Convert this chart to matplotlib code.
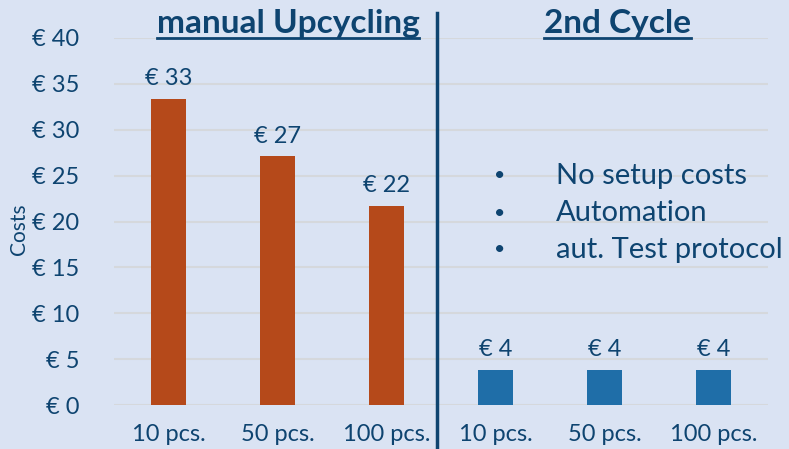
import matplotlib.pyplot as plt
from matplotlib.lines import Line2D

plt.rcParams['font.family'] = ['Lato', 'DejaVu Sans']

categories = ['10 pcs.', '50 pcs.', '100 pcs.', '10 pcs.', '50 pcs.', '100 pcs.']
costs = [33.4, 27.1, 21.7, 3.8, 3.8, 3.8]
labels = ['€ 33', '€ 27', '€ 22', '€ 4', '€ 4', '€ 4']
colors = ['#b5491a'] * 3 + ['#1f6ea8'] * 3
yticks = [0, 5, 10, 15, 20, 25, 30, 35, 40]
bullets = ['No setup costs', 'Automation', 'aut. Test protocol']

bg = '#dae3f3'
navy = '#0e4470'

fig = plt.figure(figsize=(7.89, 4.49), dpi=100, facecolor=bg)
ax = fig.add_axes([114 / 789, 1 - 405 / 449, 654 / 789, 367 / 449])
ax.set_facecolor(bg)

x = range(len(categories))
bars = ax.bar(x, costs, width=0.32, color=colors, zorder=3)
ax.bar_label(bars, labels=labels, padding=7, fontsize=17, color=navy)

ax.set_xlim(-0.5, 5.5)
ax.set_ylim(0, 40)
ax.set_yticks(yticks)
ax.set_yticklabels([f'€ {v}' for v in yticks], fontsize=17, color=navy)
ax.set_xticks(list(x))
ax.set_xticklabels(categories, fontsize=17, color=navy)
ax.tick_params(length=0, pad=25, axis='y')
ax.tick_params(length=0, pad=14, axis='x')
ax.yaxis.grid(True, color='#d5d8dc', linewidth=1.5, zorder=0)
for s in ax.spines.values():
    s.set_visible(False)
ax.set_ylabel('Costs', fontsize=15, color=navy)
ax.yaxis.set_label_coords(-0.13, 0.48)

# divider between the two groups
fig.add_artist(Line2D([437 / 789, 437 / 789], [0, 1 - 13 / 449],
                      color=navy, linewidth=2.5))

# underlined titles
titles = [(288, 'manual Upcycling'), (617, '2nd Cycle')]
for px, t in titles:
    fig.text(px / 789, 1 - 24 / 449, t, fontsize=24, fontweight='bold',
             color=navy, ha='center', va='center')
fig.canvas.draw()
r = fig.canvas.get_renderer()
for txt in fig.texts:
    bb = txt.get_window_extent(r)
    y0 = (bb.y0 + 1) / fig.bbox.height
    fig.add_artist(Line2D([bb.x0 / fig.bbox.width, bb.x1 / fig.bbox.width], [y0, y0],
                          color=navy, linewidth=2))

for i, b in enumerate(bullets):
    yy = 1 - (176 + 37 * i) / 449
    fig.text(500 / 789, yy, '•', fontsize=14, color=navy, ha='center', va='center')
    fig.text(556 / 789, yy, b, fontsize=21, color=navy, ha='left', va='center')

fig.savefig('out.png', dpi=100, facecolor=bg)
